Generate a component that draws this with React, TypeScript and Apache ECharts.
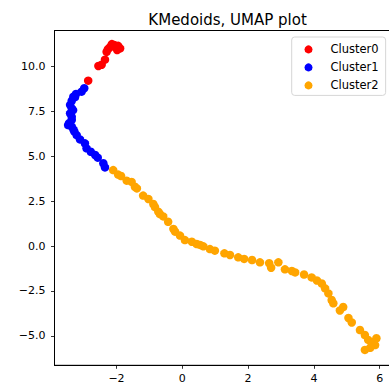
import React, { useEffect, useRef } from 'react';
import * as echarts from 'echarts';

const chartTitle = 'KMedoids, UMAP plot';
const seriesNames = ['Cluster0', 'Cluster1', 'Cluster2'];
const seriesColors = ['#ff0000', '#0000ff', '#ffa500'];

const cluster0: number[][] = [
  [-2.14, 11.25], [-2.07, 11.2], [-1.95, 11.15], [-2.2, 11.07], [-1.89, 11.01],
  [-1.98, 10.92], [-2.26, 10.97], [-2.3, 10.82], [-2.35, 10.38], [-2.45, 10.1],
  [-2.55, 10.03], [-2.86, 9.21],
];

const cluster1: number[][] = [
  [-2.98, 8.79], [-3.06, 8.6], [-3.23, 8.47], [-3.26, 8.3], [-3.31, 8.32],
  [-3.36, 8.09], [-3.41, 7.86], [-3.36, 7.67], [-3.32, 7.57], [-3.41, 7.39],
  [-3.36, 7.2], [-3.36, 7.02], [-3.44, 6.84], [-3.47, 6.74], [-3.36, 6.65],
  [-3.31, 6.5], [-3.28, 6.37], [-3.21, 6.18], [-3.11, 5.94], [-2.96, 5.72],
  [-2.91, 5.44], [-2.78, 5.25], [-2.65, 5.07], [-2.57, 4.92], [-2.4, 4.61],
  [-2.35, 4.38],
];

const cluster2: number[][] = [
  [-2.1, 4.23], [-1.95, 3.98], [-1.86, 3.9], [-1.69, 3.64], [-1.54, 3.57],
  [-1.44, 3.3], [-1.38, 3.21], [-1.19, 2.81], [-1.03, 2.62], [-0.88, 2.34],
  [-0.83, 2.17], [-0.73, 1.91], [-0.68, 1.78], [-0.58, 1.65], [-0.43, 1.35],
  [-0.27, 0.95], [-0.22, 0.8], [-0.07, 0.58], [0.08, 0.33], [0.29, 0.24],
  [0.44, 0.11], [0.54, 0.06], [0.64, -0.02], [0.84, -0.17], [0.99, -0.26],
  [1.28, -0.41], [1.45, -0.5], [1.7, -0.63], [1.88, -0.72], [2.12, -0.78],
  [2.36, -0.91], [2.64, -0.96], [2.7, -1.21], [2.92, -0.91], [3.12, -1.3],
  [3.33, -1.39], [3.43, -1.47], [3.7, -1.59], [3.93, -1.75], [4.09, -1.92],
  [4.24, -2.09], [4.34, -2.36], [4.44, -2.64], [4.54, -3.01], [4.59, -3.19],
  [4.79, -3.59], [4.89, -3.4], [5.05, -4.01], [5.15, -4.26], [5.4, -4.68],
  [5.55, -4.96], [5.65, -5.23], [5.9, -5.14], [5.86, -5.52], [5.8, -5.35],
  [5.71, -5.67], [5.55, -5.79],
];

const xTicks = [-2, 0, 2, 4, 6];
const yTicks = [-5, -2.5, 0, 2.5, 5, 7.5, 10];
const xRange = [-3.884, 6.337];
const yRange = [-6.646, 12.006];

const FONT = 'DejaVu Sans';
const minus = (s: string) => s.replace('-', '\u2212');

export default function App() {
  const ref = useRef<HTMLDivElement>(null);
  useEffect(() => {
    if (!ref.current) return;
    const chart = echarts.init(ref.current, undefined, { renderer: 'svg' });
    const data = [cluster0, cluster1, cluster2];
    chart.setOption({
      animation: false,
      backgroundColor: '#ffffff',
      title: {
        text: chartTitle,
        left: 222.6,
        top: 7,
        textAlign: 'center',
        textStyle: { fontFamily: FONT, fontSize: 15, fontWeight: 'normal', color: '#000' },
      },
      legend: {
        orient: 'vertical',
        left: 291.7,
        top: 37,
        icon: 'circle',
        itemWidth: 34,
        itemHeight: 8,
        itemGap: 4,
        padding: [5.4, 7, 3, 12.8],
        backgroundColor: 'rgba(255,255,255,0.8)',
        borderColor: '#d6d6d6',
        borderWidth: 1,
        borderRadius: 3,
        textStyle: { fontFamily: FONT, fontSize: 11.5, color: '#000', lineHeight: 14 },
        data: seriesNames,
      },
      grid: {
        left: 54.5,
        top: 30.5,
        width: 336.3,
        height: 334.8,
        show: true,
        borderColor: '#000',
        borderWidth: 1,
        outerBoundsMode: 'none',
      },
      xAxis: {
        type: 'value',
        min: xRange[0],
        max: xRange[1],
        splitLine: { show: false },
        axisLine: { show: true, onZero: false, lineStyle: { color: '#000', width: 1 } },
        axisTick: { show: true, length: 3.5, customValues: xTicks, lineStyle: { color: '#000', width: 0.8 } },
        axisLabel: {
          customValues: xTicks,
          margin: 8,
          fontFamily: FONT,
          fontSize: 11,
          color: '#000',
          formatter: (v: number) => minus(String(Math.round(v))),
        },
      },
      yAxis: {
        type: 'value',
        min: yRange[0],
        max: yRange[1],
        splitLine: { show: false },
        axisLine: { show: true, onZero: false, lineStyle: { color: '#000', width: 1 } },
        axisTick: { show: true, length: 3.5, customValues: yTicks, lineStyle: { color: '#000', width: 0.8 } },
        axisLabel: {
          customValues: yTicks,
          margin: 9,
          fontFamily: FONT,
          fontSize: 11,
          color: '#000',
          formatter: (v: number) => minus(v.toFixed(1)),
        },
      },
      series: seriesNames.map((name, i) => ({
        name,
        type: 'scatter',
        data: data[i],
        symbol: 'circle',
        symbolSize: 8.5,
        itemStyle: { color: seriesColors[i], opacity: 1 },
        emphasis: { disabled: true },
      })),
    });
    return () => chart.dispose();
  }, []);
  return (
    <div
      ref={ref}
      style={{ position: 'absolute', left: 0, top: 0, width: 389, height: 387 }}
    />
  );
}
